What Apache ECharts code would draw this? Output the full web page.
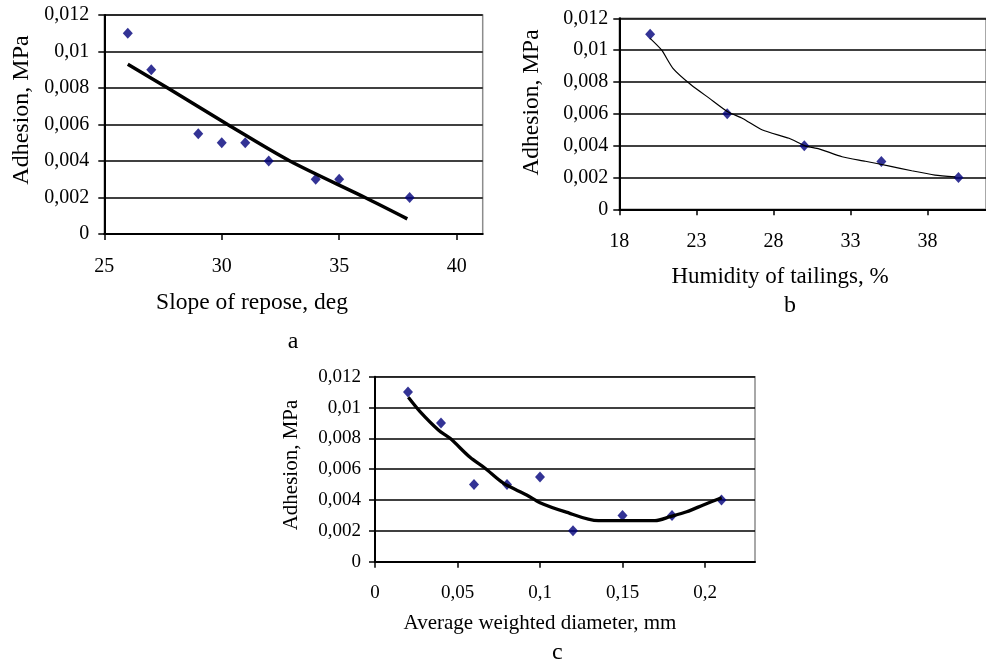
<!DOCTYPE html>
<html>
<head>
<meta charset="utf-8">
<script src="https://cdn.jsdelivr.net/npm/echarts@6/dist/echarts.min.js"></script>
<style>
html,body{margin:0;padding:0;background:#fff;}
#chart{width:986px;height:667px;}
</style>
</head>
<body>
<div id="chart"></div>
<script>
// ---- chart a: slope of repose ----
const slopeDeg = [26, 27, 29, 30, 31, 32, 34, 35, 38];
const adhesionA = [0.011, 0.009, 0.0055, 0.005, 0.005, 0.004, 0.003, 0.003, 0.002];
const trendAx = [26, 27.7, 30.25, 32.9, 36.1, 37.9];
const trendAy = [0.0093, 0.008, 0.006, 0.004, 0.002, 0.00083];
const ticksA = [25, 30, 35, 40];

// ---- chart b: humidity of tailings ----
const humidity = [20, 25, 30, 35, 40];
const adhesionB = [0.011, 0.006, 0.004, 0.003, 0.002];
const trendBx = [20, 20.74, 21.48, 22.67, 23.85, 25.03, 26, 27.29, 29.01, 30.09, 30.95, 32.45, 33.96, 35.46, 36.97, 38.48, 39.8];
const trendBy = [0.01074, 0.01001, 0.00886, 0.00781, 0.00697, 0.00613, 0.00571, 0.00498, 0.00446, 0.00397, 0.0038, 0.0033, 0.00302, 0.00273, 0.00242, 0.00215, 0.00204];
const ticksB = [18, 23, 28, 33, 38];

// ---- chart c: average weighted diameter ----
const diameter = [0.02, 0.04, 0.06, 0.08, 0.1, 0.12, 0.15, 0.18, 0.21];
const adhesionC = [0.011, 0.009, 0.005, 0.005, 0.0055, 0.002, 0.003, 0.003, 0.004];
const trendCx = [0.0202, 0.0273, 0.0384, 0.0455, 0.0576, 0.0667, 0.0778, 0.0919, 0.1, 0.115, 0.1354, 0.1697, 0.1788, 0.1889, 0.199, 0.2101];
const trendCy = [0.01066, 0.00973, 0.00854, 0.008, 0.00677, 0.00606, 0.00509, 0.00433, 0.00383, 0.00325, 0.00266, 0.00266, 0.00292, 0.00324, 0.00368, 0.00415];
const ticksC = [0, 0.05, 0.1, 0.15, 0.2];

const yTitle = 'Adhesion, MPa';
const xTitleA = 'Slope of repose, deg';
const xTitleB = 'Humidity of tailings, %';
const xTitleC = 'Average weighted diameter, mm';
const panelA = 'a', panelB = 'b', panelC = 'c';

const FONT = '"Liberation Serif", "Times New Roman", serif';
const pairs = (xs, ys) => xs.map((x, i) => [x, ys[i]]);
const fmt = v => (v === 0 ? '0' : String(parseFloat(Number(v).toFixed(4))).replace('.', ','));

function xAxis(gi, min, max, ticks, fs, margin) {
  return {
    type: 'value', gridIndex: gi, min: min, max: max,
    axisLine: { show: true, onZero: false, lineStyle: { color: '#000', width: 2 } },
    axisTick: { show: true, length: 6, customValues: ticks, lineStyle: { color: '#000', width: 1.5 } },
    axisLabel: { customValues: ticks, formatter: fmt, color: '#000', fontFamily: FONT, fontSize: fs, margin: margin },
    splitLine: { show: false }
  };
}
function yAxis(gi, fs, margin) {
  return {
    type: 'value', gridIndex: gi, min: 0, max: 0.012, interval: 0.002,
    axisLine: { show: true, lineStyle: { color: '#000', width: 2 } },
    axisTick: { show: true, length: 6, lineStyle: { color: '#000', width: 1.5 } },
    axisLabel: { formatter: fmt, color: '#000', fontFamily: FONT, fontSize: fs, margin: margin },
    splitLine: { show: true, lineStyle: { color: '#000', width: 1.5 } }
  };
}
function txt(text, x, y, fs, rot) {
  return {
    type: 'text', x: x, y: y, rotation: rot || 0,
    style: { text: text, x: 0, y: 0, align: 'center', verticalAlign: 'middle',
             fontFamily: FONT, fontSize: fs, fill: '#000' }
  };
}
const dia = { type: 'scatter', symbol: 'diamond', symbolSize: [10, 11], itemStyle: { color: '#00007a' }, z: 2 };

const chart = echarts.init(document.getElementById('chart'), null, { renderer: 'canvas' });
chart.setOption({
  backgroundColor: '#fff',
  animation: false,
  grid: [
    { left: 104.3, top: 15, right: 503.3, bottom: 433, show: true, borderColor: '#8c8c8c', borderWidth: 1.5, containLabel: false },
    { left: 619.3, top: 18.3, right: -2, bottom: 457.7, show: true, borderColor: '#8c8c8c', borderWidth: 1.5, containLabel: false },
    { left: 375, top: 376.7, right: 231, bottom: 105.3, show: true, borderColor: '#8c8c8c', borderWidth: 1.5, containLabel: false }
  ],
  xAxis: [
    xAxis(0, 25, 41.11, ticksA, 20, 23),
    xAxis(1, 18, 18 + (988 - 619.3) / 15.5, ticksB, 20, 22),
    xAxis(2, 0, 0.2303, ticksC, 19, 22)
  ],
  yAxis: [ yAxis(0, 20, 15), yAxis(1, 20, 11), yAxis(2, 19, 14) ],
  series: [
    Object.assign({}, dia, { xAxisIndex: 0, yAxisIndex: 0, data: pairs(slopeDeg, adhesionA) }),
    { type: 'line', xAxisIndex: 0, yAxisIndex: 0, data: pairs(trendAx, trendAy), showSymbol: false, smooth: 0.3,
      lineStyle: { color: '#000', width: 3.5 }, z: 3 },
    Object.assign({}, dia, { xAxisIndex: 1, yAxisIndex: 1, data: pairs(humidity, adhesionB) }),
    { type: 'line', xAxisIndex: 1, yAxisIndex: 1, data: pairs(trendBx, trendBy), showSymbol: false, smooth: 0.2,
      lineStyle: { color: '#000', width: 1.2 }, z: 3 },
    Object.assign({}, dia, { xAxisIndex: 2, yAxisIndex: 2, data: pairs(diameter, adhesionC) }),
    { type: 'line', xAxisIndex: 2, yAxisIndex: 2, data: pairs(trendCx, trendCy), showSymbol: false, smooth: 0.3,
      lineStyle: { color: '#000', width: 3.3 }, z: 3 }
  ],
  graphic: [
    txt(yTitle, 22, 110, 24, Math.PI / 2),
    txt(xTitleA, 252, 303, 23.5),
    txt(panelA, 293, 342, 24),
    txt(yTitle, 531.7, 102.5, 23.5, Math.PI / 2),
    txt(xTitleB, 780, 277, 23),
    txt(panelB, 790, 306, 24),
    txt(yTitle, 291.7, 465, 21, Math.PI / 2),
    txt(xTitleC, 540, 623.3, 21),
    txt(panelC, 557.3, 653, 24)
  ]
});
</script>
</body>
</html>
